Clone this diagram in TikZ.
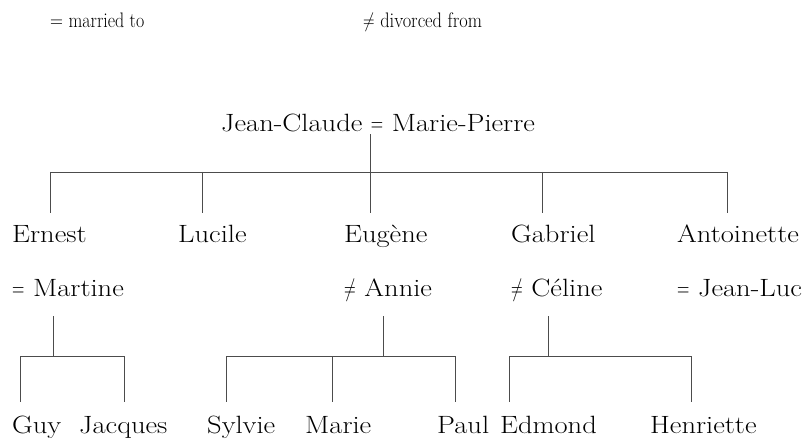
\documentclass[tikz,border=0pt]{standalone}
\usepackage{fontspec}
\setmainfont{Latin Modern Roman}[FakeStretch=1.14]
\newcommand\eqsign{\scalebox{0.6}[1]{=}}
\newcommand\neqsign{\scalebox{0.65}[1]{$\neq$}}
\tikzset{
  nm/.style={anchor=base west, inner sep=0pt, font=\fontsize{25}{30}\selectfont,
    text height=19pt, text depth=6pt},
  key/.style={anchor=base west, inner sep=0pt, font=\fontsize{21}{25}\selectfont},
  ln/.style={draw=black!70, line width=0.9pt},
}
\begin{document}
\begin{tikzpicture}[x=1pt,y=-1pt]
\useasboundingbox (0,0) rectangle (807,441);
% legend
\node[key] (married) at (50,28) {\scalebox{0.75}[1]{= married to}};
\node[key] (divorced) at (363,28) {\scalebox{0.77}[1]{$\neq$ divorced from}};
% parents
\node[nm] (jc) at (221,132) {Jean-Claude \eqsign{} Marie-Pierre};
\coordinate (jcbar) at (370,172);
\draw[ln, shorten <=-4pt] (jcbar |- jc.south) -- (jcbar);
% children
\node[nm] (ernest) at (12,243) {Ernest};
\node[nm] (lucile) at (178,243) {Lucile};
\node[nm] (eugene) at (344,243) {Eugène};
\node[nm] (gabriel) at (511,243) {Gabriel};
\node[nm] (antoinette) at (677,243) {Antoinette};
\draw[ln] (50,172) -- (727,172);
\foreach \c/\x in {ernest/50,lucile/202,eugene/370,gabriel/542,antoinette/727}
  \draw[ln, shorten >=11pt] (\x,172) -- (\x,0 |- \c.north);
% spouses
\node[nm] (martine) at (12,297) {\eqsign{} Martine};
\node[nm] (annie) at (344,297) {\neqsign{} Annie};
\node[nm] (celine) at (511,297) {\neqsign{} Céline};
\node[nm] (jeanluc) at (677,297) {\eqsign{} Jean-Luc};
\coordinate (ebar) at (53,356);
\coordinate (abar) at (383,356);
\coordinate (cbar) at (548,356);
\draw[ln, shorten <=13pt] (ebar |- martine.south) -- (ebar);
\draw[ln, shorten <=13pt] (abar |- annie.south) -- (abar);
\draw[ln, shorten <=13pt] (cbar |- celine.south) -- (cbar);
% grandchildren
\node[nm] (guy) at (12,433) {Guy};
\node[nm] (jacques) at (79,433) {Jacques};
\node[nm] (sylvie) at (207,433) {Sylvie};
\node[nm] (marie) at (305,433) {Marie};
\node[nm] (paul) at (437,433) {Paul};
\node[nm] (edmond) at (500,433) {Edmond};
\node[nm] (henriette) at (650,433) {Henriette};
\draw[ln] (20,356) -- (124,356);
\draw[ln] (226,356) -- (455,356);
\draw[ln] (509,356) -- (691,356);
\foreach \c/\x in {guy/20,jacques/124,sylvie/226,marie/332,paul/455,edmond/509,henriette/691}
  \draw[ln, shorten >=12pt] (\x,356) -- (\x,0 |- \c.north);
\end{tikzpicture}
\end{document}
